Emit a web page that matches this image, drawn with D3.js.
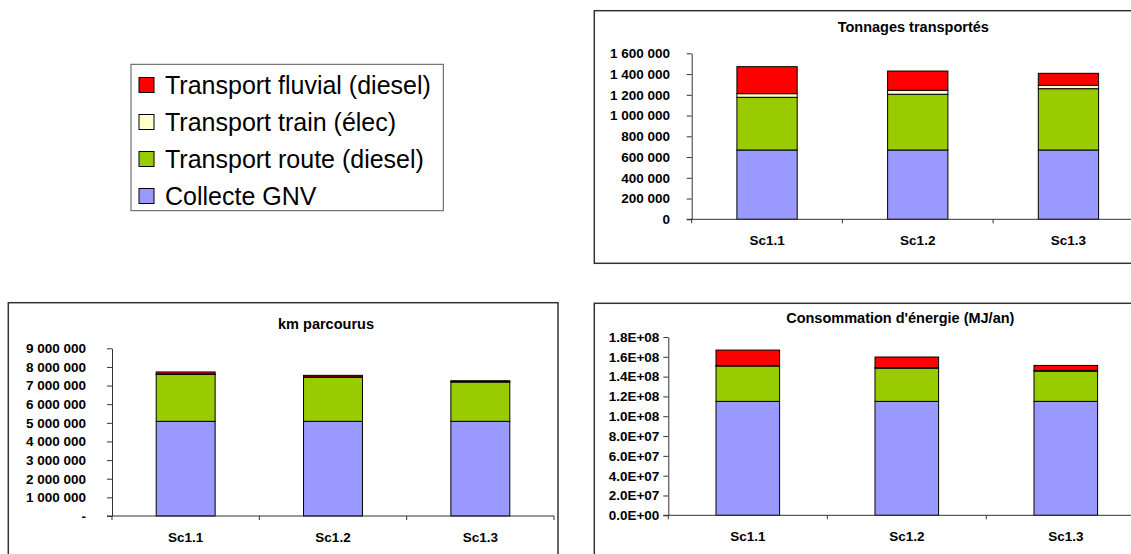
<!DOCTYPE html>
<html>
<head>
<meta charset="utf-8">
<script src="https://cdn.jsdelivr.net/npm/d3@7"></script>
<style>
body { margin: 0; background: #fff; }
svg text { font-family: "Liberation Sans", Arial, sans-serif; fill: #000; }
</style>
</head>
<body>
<svg id="fig" width="1131" height="554"></svg>
<script>
// categories and series (bottom -> top of each stack)
var categories = ["Sc1.1", "Sc1.2", "Sc1.3"];
var seriesKeys = ["gnv", "route", "train", "fluvial"];
var seriesNames = ["Collecte GNV", "Transport route (diesel)", "Transport train (élec)", "Transport fluvial (diesel)"];
var seriesColors = ["#9999ff", "#99cc00", "#ffffcc", "#ff0000"];

// Tonnages transportés
var tonGnv = [668000, 668000, 668000];
var tonRoute = [508000, 537000, 591000];
var tonTrain = [35000, 38000, 32000];
var tonFluvial = [260000, 186000, 116000];
var tonTicks = [0, 200000, 400000, 600000, 800000, 1000000, 1200000, 1400000, 1600000];

// km parcourus
var kmGnv = [5080000, 5080000, 5080000];
var kmRoute = [2520000, 2365000, 2110000];
var kmTrain = [20000, 20000, 20000];
var kmFluvial = [110000, 85000, 50000];
var kmTicks = [0, 1000000, 2000000, 3000000, 4000000, 5000000, 6000000, 7000000, 8000000, 9000000];

// Consommation d'énergie (MJ/an)
var nrjGnv = [1.15e8, 1.15e8, 1.15e8];
var nrjRoute = [3.57e7, 3.35e7, 3.05e7];
var nrjTrain = [4e5, 6e5, 6e5];
var nrjFluvial = [1.57e7, 1.07e7, 5.2e6];
var nrjTicks = [0, 2e7, 4e7, 6e7, 8e7, 1e8, 1.2e8, 1.4e8, 1.6e8, 1.8e8];

var spaced = d3.formatLocale({thousands: " ", grouping: [3], decimal: ",", currency: ["", ""]}).format(",");

function sci (v) {
	var parts = v.toExponential(1).toUpperCase().split("E");
	var exp = parseInt(parts[1], 10);
	return parts[0] + "E" + (exp < 0 ? "-" : "+") + String(Math.abs(exp)).padStart(2, "0");
}

function rows (gnv, route, train, fluvial) {
	return categories.map(function (c, i) {
		return {cat: c, gnv: gnv[i], route: route[i], train: train[i], fluvial: fluvial[i]};
	});
}

var charts = [
	{title: "Tonnages transportés", data: rows(tonGnv, tonRoute, tonTrain, tonFluvial), ticks: tonTicks,
	 fmt: function (d) { return spaced(d); },
	 frame: [594.3, 10.7, 620, 252.6], x0: 691.7, x1: 1143.8, yTop: 53.3, yBottom: 219.3, pad: 16.7, titleX: 913.3, titleY: 31.7},
	{title: "km parcourus", data: rows(kmGnv, kmRoute, kmTrain, kmFluvial), ticks: kmTicks,
	 fmt: function (d) { return d === 0 ? "-" : spaced(d); },
	 frame: [8.3, 302.7, 549.7, 300], x0: 112, x1: 554, yTop: 348.3, yBottom: 516, pad: 21, titleX: 326, titleY: 329},
	{title: "Consommation d'énergie (MJ/an)", data: rows(nrjGnv, nrjRoute, nrjTrain, nrjFluvial), ticks: nrjTicks,
	 fmt: sci,
	 frame: [594.3, 303.3, 620, 300], x0: 668.3, x1: 1145.3, yTop: 337, yBottom: 515.3, pad: 4, titleX: 900.3, titleY: 323.3}
];

var svg = d3.select("#fig");

charts.forEach(function (c) {
	var g = svg.append("g");
	g.append("rect")
		.attr("x", c.frame[0]).attr("y", c.frame[1])
		.attr("width", c.frame[2]).attr("height", c.frame[3])
		.attr("fill", "#fff").attr("stroke", "#333").attr("stroke-width", 1.5);

	var x = d3.scaleBand().domain(categories).range([c.x0, c.x1]).paddingInner(0.6).paddingOuter(0.3);
	var y = d3.scaleLinear().domain([0, d3.max(c.ticks)]).range([c.yBottom, c.yTop]);

	g.append("text")
		.attr("x", c.titleX).attr("y", c.titleY)
		.attr("text-anchor", "middle")
		.style("font-size", "14.5px").style("font-weight", "bold")
		.text(c.title);

	var stacked = d3.stack().keys(seriesKeys)(c.data);
	g.selectAll("g.serie").data(stacked).join("g")
		.attr("class", "serie")
		.attr("fill", function (d, i) { return seriesColors[i]; })
		.selectAll("rect").data(function (d) { return d; }).join("rect")
		.attr("x", function (d) { return x(d.data.cat); })
		.attr("y", function (d) { return y(d[1]); })
		.attr("width", x.bandwidth())
		.attr("height", function (d) { return y(d[0]) - y(d[1]); })
		.attr("stroke", "#000").attr("stroke-width", 1);

	var yAxis = g.append("g")
		.attr("transform", "translate(" + c.x0 + ",0)")
		.call(d3.axisLeft(y).tickValues(c.ticks).tickFormat(c.fmt).tickSize(5).tickSizeOuter(0).tickPadding(c.pad));
	yAxis.selectAll("path,line").attr("stroke", "#333");
	yAxis.selectAll("text").style("font-size", "13.5px").style("font-weight", "bold").attr("fill", "#000");

	// category axis: line + ticks between categories
	var y0 = y(0);
	g.append("line").attr("x1", c.x0 - 5).attr("x2", c.x1).attr("y1", y0).attr("y2", y0).attr("stroke", "#333");
	g.selectAll("line.ctick").data(d3.range(categories.length + 1)).join("line")
		.attr("class", "ctick")
		.attr("x1", function (i) { return c.x0 + i * x.step(); })
		.attr("x2", function (i) { return c.x0 + i * x.step(); })
		.attr("y1", y0).attr("y2", y0 + 4)
		.attr("stroke", "#333");
	g.selectAll("text.cat").data(categories).join("text")
		.attr("class", "cat")
		.attr("x", function (d) { return x(d) + x.bandwidth() / 2; })
		.attr("y", y0 + 25.5)
		.attr("text-anchor", "middle")
		.style("font-size", "13.5px").style("font-weight", "bold")
		.text(function (d) { return d; });
});

// legend (top series first)
var legend = svg.append("g");
legend.append("rect")
	.attr("x", 131).attr("y", 64.3).attr("width", 312.3).attr("height", 146.4)
	.attr("fill", "#fff").attr("stroke", "#555").attr("stroke-width", 1);
var legendOrder = d3.range(seriesKeys.length).reverse();
var item = legend.selectAll("g.item").data(legendOrder).join("g")
	.attr("class", "item")
	.attr("transform", function (d, i) { return "translate(139," + (85 + i * 37) + ")"; });
item.append("rect")
	.attr("x", 0).attr("y", -7.5).attr("width", 15).attr("height", 15)
	.attr("fill", function (d) { return seriesColors[d]; })
	.attr("stroke", "#000").attr("stroke-width", 1);
item.append("text")
	.attr("x", 26).attr("y", 8.5)
	.style("font-size", "25px")
	.text(function (d) { return seriesNames[d]; });
</script>
</body>
</html>
